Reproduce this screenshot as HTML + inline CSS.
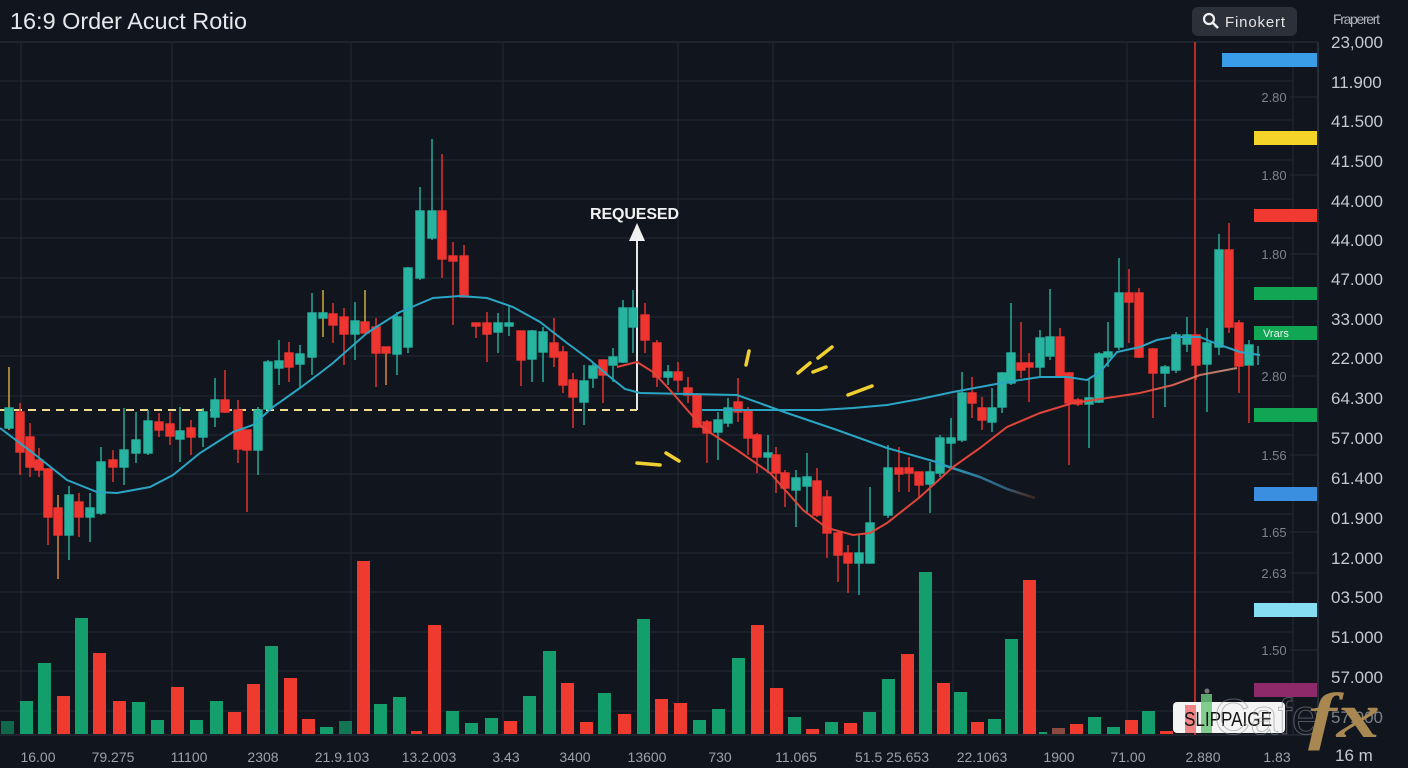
<!DOCTYPE html>
<html><head><meta charset="utf-8"><style>
html,body{margin:0;padding:0;background:#11151e;}
svg{display:block;font-family:"Liberation Sans",sans-serif;}
.t{fill:#27b4a1;stroke:#27b4a1;stroke-width:1.4}
.r{fill:#ee3530;stroke:#ee3530;stroke-width:1.4}
.vg{fill:#139e6b}.vr{fill:#ef3b2f}
.ax{fill:#c5c9d0;font-size:17px}
.il{fill:#7d828c;font-size:13px;text-anchor:middle}
.xl{fill:#9ca1aa;font-size:14px;text-anchor:middle}
.g{stroke:#242935;stroke-width:1}
</style></head><body>
<svg width="1408" height="768" viewBox="0 0 1408 768" xmlns="http://www.w3.org/2000/svg">
<rect width="1408" height="768" fill="#11151e"/>
<!-- grid -->
<g class="g">
<line x1="0" y1="42" x2="1318" y2="42" stroke="#2c313c"/>
<line x1="0" y1="81" x2="1293" y2="81"/><line x1="0" y1="120" x2="1293" y2="120"/>
<line x1="0" y1="160" x2="1293" y2="160"/><line x1="0" y1="199" x2="1293" y2="199"/>
<line x1="0" y1="238" x2="1293" y2="238"/><line x1="0" y1="278" x2="1293" y2="278"/>
<line x1="0" y1="317" x2="1293" y2="317"/><line x1="0" y1="356" x2="1293" y2="356"/>
<line x1="0" y1="396" x2="1293" y2="396"/><line x1="0" y1="435" x2="1293" y2="435"/>
<line x1="0" y1="474" x2="1293" y2="474"/><line x1="0" y1="514" x2="1293" y2="514"/>
<line x1="0" y1="553" x2="1293" y2="553"/><line x1="0" y1="592" x2="1293" y2="592"/>
<line x1="0" y1="632" x2="1293" y2="632"/><line x1="0" y1="671" x2="1293" y2="671"/>
<line x1="0" y1="711" x2="1293" y2="711"/>
<line x1="21" y1="42" x2="21" y2="735"/><line x1="172" y1="42" x2="172" y2="735"/>
<line x1="351" y1="42" x2="351" y2="735"/><line x1="503" y1="42" x2="503" y2="735"/>
<line x1="678" y1="42" x2="678" y2="735"/><line x1="773" y1="42" x2="773" y2="735"/>
<line x1="953" y1="42" x2="953" y2="735"/><line x1="1127" y1="42" x2="1127" y2="735"/>
<line x1="1293" y1="42" x2="1293" y2="735"/>
<line x1="1318" y1="42" x2="1318" y2="735" stroke="#2e3440" stroke-width="1.5"/>
<line x1="0" y1="735" x2="1318" y2="735" stroke="#2c313c"/>
<line x1="1290" y1="97" x2="1318" y2="97"/><line x1="1290" y1="175" x2="1318" y2="175"/>
<line x1="1290" y1="254" x2="1318" y2="254"/><line x1="1290" y1="376" x2="1318" y2="376"/>
<line x1="1290" y1="455" x2="1318" y2="455"/><line x1="1290" y1="532" x2="1318" y2="532"/>
<line x1="1290" y1="573" x2="1318" y2="573"/><line x1="1290" y1="650" x2="1318" y2="650"/>
</g>

<!-- header -->
<text x="10" y="29" fill="#e6e7ea" font-size="23" textLength="237" lengthAdjust="spacingAndGlyphs">16:9 Order Acuct Rotio</text>
<rect x="1192" y="7" width="105" height="29" rx="6" fill="#2c3038"/>
<circle cx="1209" cy="19" r="5" fill="none" stroke="#f0f0f0" stroke-width="2.2"/>
<line x1="1213" y1="23" x2="1218" y2="28" stroke="#f0f0f0" stroke-width="2.5"/>
<text x="1225" y="27" fill="#e4e4e6" font-size="15" textLength="60">Finokert</text>
<text x="1333" y="24" fill="#b0b4bb" font-size="14" textLength="47">Fraperert</text>

<!-- volume -->
<g>
<rect class="vg" x="1" y="721" width="13" height="13" opacity="0.6"/>
<rect class="vg" x="20" y="701" width="13" height="33"/>
<rect class="vg" x="38" y="663" width="13" height="71"/>
<rect class="vr" x="57" y="696" width="13" height="38"/>
<rect class="vg" x="75" y="618" width="13" height="116"/>
<rect class="vr" x="93" y="653" width="13" height="81"/>
<rect class="vr" x="113" y="701" width="13" height="33"/>
<rect class="vg" x="132" y="702" width="13" height="32"/>
<rect class="vg" x="151" y="720" width="13" height="14"/>
<rect class="vr" x="171" y="687" width="13" height="47"/>
<rect class="vg" x="190" y="720" width="13" height="14"/>
<rect class="vg" x="210" y="701" width="13" height="33"/>
<rect class="vr" x="228" y="712" width="13" height="22"/>
<rect class="vr" x="247" y="684" width="13" height="50"/>
<rect class="vg" x="265" y="646" width="13" height="88"/>
<rect class="vr" x="284" y="678" width="13" height="56"/>
<rect class="vr" x="302" y="719" width="13" height="15"/>
<rect class="vg" x="320" y="727" width="13" height="7"/>
<rect class="vg" x="339" y="721" width="13" height="13" opacity="0.7"/>
<rect class="vr" x="357" y="561" width="13" height="173"/>
<rect class="vg" x="374" y="704" width="13" height="30"/>
<rect class="vg" x="393" y="697" width="13" height="37"/>
<rect class="vr" x="411" y="731" width="11" height="3"/>
<rect class="vr" x="428" y="625" width="13" height="109"/>
<rect class="vg" x="446" y="711" width="13" height="23"/>
<rect class="vg" x="465" y="723" width="13" height="11"/>
<rect class="vg" x="485" y="718" width="13" height="16"/>
<rect class="vr" x="504" y="721" width="13" height="13"/>
<rect class="vg" x="523" y="696" width="13" height="38"/>
<rect class="vg" x="543" y="651" width="13" height="83"/>
<rect class="vr" x="561" y="683" width="13" height="51"/>
<rect class="vr" x="580" y="722" width="13" height="12"/>
<rect class="vg" x="598" y="693" width="13" height="41"/>
<rect class="vr" x="618" y="714" width="13" height="20"/>
<rect class="vg" x="637" y="619" width="13" height="115"/>
<rect class="vr" x="655" y="699" width="13" height="35"/>
<rect class="vr" x="674" y="703" width="13" height="31"/>
<rect class="vg" x="693" y="720" width="13" height="14"/>
<rect class="vg" x="712" y="709" width="13" height="25"/>
<rect class="vg" x="732" y="658" width="13" height="76"/>
<rect class="vr" x="751" y="625" width="13" height="109"/>
<rect class="vr" x="770" y="688" width="13" height="46"/>
<rect class="vg" x="788" y="717" width="13" height="17"/>
<rect class="vr" x="806" y="729" width="13" height="5"/>
<rect class="vg" x="825" y="722" width="13" height="12"/>
<rect class="vr" x="844" y="723" width="13" height="11"/>
<rect class="vg" x="863" y="712" width="13" height="22"/>
<rect class="vg" x="882" y="679" width="13" height="55"/>
<rect class="vr" x="901" y="654" width="13" height="80"/>
<rect class="vg" x="919" y="572" width="13" height="162"/>
<rect class="vr" x="937" y="683" width="13" height="51"/>
<rect class="vg" x="954" y="692" width="13" height="42"/>
<rect class="vr" x="971" y="722" width="13" height="12"/>
<rect class="vg" x="988" y="719" width="13" height="15"/>
<rect class="vg" x="1005" y="639" width="13" height="95"/>
<rect class="vr" x="1023" y="580" width="13" height="154"/>
<rect class="vg" x="1039" y="732" width="8" height="2"/>
<rect x="1052" y="728" width="13" height="6" fill="#8a4a40"/>
<rect class="vr" x="1070" y="724" width="13" height="10"/>
<rect class="vg" x="1088" y="717" width="13" height="17"/>
<rect class="vg" x="1107" y="727" width="13" height="7"/>
<rect class="vr" x="1125" y="720" width="13" height="14"/>
<rect class="vg" x="1142" y="711" width="13" height="23"/>
<rect class="vr" x="1160" y="731" width="13" height="3"/>
</g>

<!-- dashed line and arrow -->
<line x1="0" y1="410" x2="637" y2="410" stroke="#efdc90" stroke-width="2" stroke-dasharray="8 6"/>
<line x1="637" y1="410" x2="637" y2="238" stroke="#e6e6e6" stroke-width="2"/>
<polygon points="629,241 645,241 637,223" fill="#f0f0f0"/>
<text x="590" y="219" fill="#f2f2f2" font-size="16" font-weight="bold" textLength="89">REQUESED</text>

<!-- red vertical -->
<line x1="1195" y1="42" x2="1195" y2="735" stroke="#d9342b" stroke-width="1.6"/>

<!-- candles teal -->
<g class="t">
<line x1="9" y1="367" x2="9" y2="430" stroke="#e0b040"/><rect x="5" y="408" width="8" height="20"/>
<line x1="69" y1="486" x2="69" y2="560"/><rect x="65" y="495" width="8" height="40"/>
<line x1="90" y1="493" x2="90" y2="542"/><rect x="86" y="508" width="8" height="9"/>
<line x1="101" y1="447" x2="101" y2="515"/><rect x="97" y="462" width="8" height="51"/>
<line x1="124" y1="408" x2="124" y2="485"/><rect x="120" y="450" width="8" height="17"/>
<line x1="136" y1="412" x2="136" y2="463"/><rect x="132" y="440" width="8" height="13"/>
<line x1="148" y1="410" x2="148" y2="455"/><rect x="144" y="421" width="8" height="32"/>
<line x1="180" y1="407" x2="180" y2="462"/><rect x="176" y="431" width="8" height="8"/>
<line x1="203" y1="408" x2="203" y2="447"/><rect x="199" y="412" width="8" height="25"/>
<line x1="215" y1="378" x2="215" y2="427"/><rect x="211" y="400" width="8" height="17"/>
<line x1="258" y1="407" x2="258" y2="475"/><rect x="254" y="410" width="8" height="40"/>
<line x1="268" y1="360" x2="268" y2="410"/><rect x="264" y="362" width="8" height="47"/>
<line x1="279" y1="340" x2="279" y2="385"/><rect x="275" y="361" width="8" height="7"/>
<line x1="300" y1="345" x2="300" y2="387"/><rect x="296" y="354" width="8" height="10"/>
<line x1="312" y1="293" x2="312" y2="375"/><rect x="308" y="313" width="8" height="44"/>
<line x1="323" y1="290" x2="323" y2="337" stroke="#d8b840"/><rect x="319" y="313" width="8" height="5"/>
<line x1="355" y1="302" x2="355" y2="360"/><rect x="351" y="321" width="8" height="13"/>
<line x1="397" y1="312" x2="397" y2="375"/><rect x="393" y="317" width="8" height="37"/>
<line x1="408" y1="267" x2="408" y2="353"/><rect x="404" y="268" width="8" height="79"/>
<line x1="420" y1="187" x2="420" y2="280"/><rect x="416" y="211" width="8" height="67"/>
<line x1="432" y1="139" x2="432" y2="240"/><rect x="428" y="211" width="8" height="27"/>
<line x1="498" y1="313" x2="498" y2="353"/><rect x="494" y="323" width="8" height="9"/>
<line x1="509" y1="305" x2="509" y2="336"/><rect x="505" y="323" width="8" height="3"/>
<line x1="532" y1="330" x2="532" y2="382"/><rect x="528" y="331" width="8" height="28"/>
<line x1="543" y1="327" x2="543" y2="382"/><rect x="539" y="332" width="8" height="20"/>
<line x1="584" y1="365" x2="584" y2="425"/><rect x="580" y="381" width="8" height="21"/>
<line x1="593" y1="362" x2="593" y2="388"/><rect x="589" y="366" width="8" height="12"/>
<line x1="613" y1="348" x2="613" y2="382"/><rect x="609" y="357" width="8" height="8"/>
<line x1="623" y1="300" x2="623" y2="363"/><rect x="619" y="308" width="8" height="54"/>
<line x1="633" y1="290" x2="633" y2="353"/><rect x="629" y="308" width="8" height="19"/>
<line x1="668" y1="365" x2="668" y2="385"/><rect x="664" y="372" width="8" height="5"/>
<line x1="718" y1="412" x2="718" y2="460"/><rect x="714" y="420" width="8" height="12"/>
<line x1="728" y1="398" x2="728" y2="427"/><rect x="724" y="408" width="8" height="15"/>
<line x1="768" y1="435" x2="768" y2="473"/><rect x="764" y="453" width="8" height="4"/>
<line x1="796" y1="470" x2="796" y2="527"/><rect x="792" y="478" width="8" height="12"/>
<line x1="807" y1="453" x2="807" y2="513"/><rect x="803" y="477" width="8" height="9"/>
<line x1="859" y1="535" x2="859" y2="595"/><rect x="855" y="553" width="8" height="10"/>
<line x1="870" y1="487" x2="870" y2="563"/><rect x="866" y="523" width="8" height="40"/>
<line x1="888" y1="445" x2="888" y2="518"/><rect x="884" y="468" width="8" height="47"/>
<line x1="930" y1="462" x2="930" y2="513"/><rect x="926" y="472" width="8" height="12"/>
<line x1="940" y1="435" x2="940" y2="477"/><rect x="936" y="438" width="8" height="35"/>
<line x1="951" y1="418" x2="951" y2="467"/><rect x="947" y="438" width="8" height="5"/>
<line x1="962" y1="372" x2="962" y2="442"/><rect x="958" y="393" width="8" height="47"/>
<line x1="992" y1="388" x2="992" y2="432"/><rect x="988" y="408" width="8" height="14"/>
<line x1="1002" y1="372" x2="1002" y2="413"/><rect x="998" y="373" width="8" height="34"/>
<line x1="1011" y1="303" x2="1011" y2="385"/><rect x="1007" y="353" width="8" height="30"/>
<line x1="1040" y1="330" x2="1040" y2="378"/><rect x="1036" y="338" width="8" height="29"/>
<line x1="1050" y1="289" x2="1050" y2="360"/><rect x="1046" y="337" width="8" height="19"/>
<line x1="1089" y1="378" x2="1089" y2="448"/><rect x="1085" y="398" width="8" height="6"/>
<line x1="1099" y1="352" x2="1099" y2="403"/><rect x="1095" y="354" width="8" height="48"/>
<line x1="1108" y1="322" x2="1108" y2="367"/><rect x="1104" y="352" width="8" height="5"/>
<line x1="1119" y1="258" x2="1119" y2="350"/><rect x="1115" y="293" width="8" height="54"/>
<line x1="1165" y1="365" x2="1165" y2="407"/><rect x="1161" y="367" width="8" height="6"/>
<line x1="1176" y1="332" x2="1176" y2="373"/><rect x="1172" y="335" width="8" height="35"/>
<line x1="1187" y1="317" x2="1187" y2="352"/><rect x="1183" y="335" width="8" height="9"/>
<line x1="1207" y1="328" x2="1207" y2="412"/><rect x="1203" y="343" width="8" height="21"/>
<line x1="1219" y1="234" x2="1219" y2="355"/><rect x="1215" y="250" width="8" height="97"/>
<line x1="1249" y1="340" x2="1249" y2="365"/><rect x="1245" y="345" width="8" height="20"/>
<line x1="1258" y1="346" x2="1258" y2="365"/>
</g>
<!-- candles red -->
<g class="r">
<line x1="20" y1="403" x2="20" y2="475"/><rect x="16" y="412" width="8" height="40"/>
<line x1="30" y1="423" x2="30" y2="477"/><rect x="26" y="437" width="8" height="30"/>
<line x1="39" y1="448" x2="39" y2="477"/><rect x="35" y="460" width="8" height="10"/>
<line x1="48" y1="468" x2="48" y2="545"/><rect x="44" y="469" width="8" height="48"/>
<line x1="58" y1="495" x2="58" y2="579" stroke="#e8903a"/><rect x="54" y="508" width="8" height="27"/>
<line x1="79" y1="493" x2="79" y2="537"/><rect x="75" y="502" width="8" height="15"/>
<line x1="113" y1="450" x2="113" y2="482"/><rect x="109" y="460" width="8" height="7"/>
<line x1="159" y1="413" x2="159" y2="437"/><rect x="155" y="422" width="8" height="8"/>
<line x1="170" y1="412" x2="170" y2="445"/><rect x="166" y="424" width="8" height="12"/>
<line x1="191" y1="420" x2="191" y2="455"/><rect x="187" y="428" width="8" height="9"/>
<line x1="225" y1="370" x2="225" y2="413"/><rect x="221" y="400" width="8" height="12"/>
<line x1="238" y1="400" x2="238" y2="463"/><rect x="234" y="410" width="8" height="39"/>
<line x1="247" y1="430" x2="247" y2="512"/><rect x="243" y="430" width="8" height="20"/>
<line x1="289" y1="342" x2="289" y2="382"/><rect x="285" y="353" width="8" height="14"/>
<line x1="333" y1="303" x2="333" y2="343"/><rect x="329" y="314" width="8" height="11"/>
<line x1="344" y1="308" x2="344" y2="365"/><rect x="340" y="317" width="8" height="17"/>
<line x1="365" y1="290" x2="365" y2="332" stroke="#d8b840"/><rect x="361" y="322" width="8" height="11"/>
<line x1="376" y1="318" x2="376" y2="387"/><rect x="372" y="327" width="8" height="26"/>
<line x1="386" y1="347" x2="386" y2="385" stroke="#e8903a"/><rect x="382" y="347" width="8" height="6"/>
<line x1="442" y1="154" x2="442" y2="278"/><rect x="438" y="211" width="8" height="48"/>
<line x1="453" y1="242" x2="453" y2="325"/><rect x="449" y="256" width="8" height="5"/>
<line x1="464" y1="245" x2="464" y2="297"/><rect x="460" y="256" width="8" height="41"/>
<line x1="476" y1="323" x2="476" y2="338"/><rect x="472" y="323" width="8" height="3"/>
<line x1="487" y1="312" x2="487" y2="362"/><rect x="483" y="323" width="8" height="11"/>
<line x1="521" y1="331" x2="521" y2="386"/><rect x="517" y="331" width="8" height="29"/>
<line x1="554" y1="318" x2="554" y2="367"/><rect x="550" y="343" width="8" height="14"/>
<line x1="563" y1="346" x2="563" y2="393"/><rect x="559" y="352" width="8" height="33"/>
<line x1="573" y1="373" x2="573" y2="428"/><rect x="569" y="380" width="8" height="17"/>
<line x1="603" y1="360" x2="603" y2="403"/><rect x="599" y="360" width="8" height="15"/>
<line x1="645" y1="303" x2="645" y2="353"/><rect x="641" y="315" width="8" height="25"/>
<line x1="657" y1="340" x2="657" y2="387"/><rect x="653" y="343" width="8" height="34"/>
<line x1="678" y1="362" x2="678" y2="392"/><rect x="674" y="372" width="8" height="8"/>
<line x1="688" y1="377" x2="688" y2="403"/><rect x="684" y="388" width="8" height="7"/>
<line x1="697" y1="393" x2="697" y2="428"/><rect x="693" y="395" width="8" height="32"/>
<line x1="707" y1="420" x2="707" y2="463"/><rect x="703" y="422" width="8" height="11"/>
<line x1="738" y1="378" x2="738" y2="422"/><rect x="734" y="402" width="8" height="10"/>
<line x1="748" y1="407" x2="748" y2="455"/><rect x="744" y="410" width="8" height="28"/>
<line x1="757" y1="433" x2="757" y2="473"/><rect x="753" y="435" width="8" height="22"/>
<line x1="776" y1="447" x2="776" y2="493"/><rect x="772" y="455" width="8" height="18"/>
<line x1="785" y1="470" x2="785" y2="507"/><rect x="781" y="473" width="8" height="15"/>
<line x1="817" y1="468" x2="817" y2="517"/><rect x="813" y="481" width="8" height="34"/>
<line x1="827" y1="490" x2="827" y2="558"/><rect x="823" y="497" width="8" height="36"/>
<line x1="838" y1="532" x2="838" y2="582"/><rect x="834" y="533" width="8" height="22"/>
<line x1="848" y1="545" x2="848" y2="593"/><rect x="844" y="553" width="8" height="10"/>
<line x1="899" y1="447" x2="899" y2="492"/><rect x="895" y="468" width="8" height="6"/>
<line x1="909" y1="457" x2="909" y2="492"/><rect x="905" y="468" width="8" height="5"/>
<line x1="919" y1="472" x2="919" y2="497"/><rect x="915" y="472" width="8" height="13"/>
<line x1="972" y1="377" x2="972" y2="418"/><rect x="968" y="393" width="8" height="10"/>
<line x1="982" y1="397" x2="982" y2="430"/><rect x="978" y="408" width="8" height="12"/>
<line x1="1021" y1="322" x2="1021" y2="378"/><rect x="1017" y="363" width="8" height="7"/>
<line x1="1029" y1="353" x2="1029" y2="402"/><rect x="1025" y="363" width="8" height="4"/>
<line x1="1060" y1="328" x2="1060" y2="378"/><rect x="1056" y="337" width="8" height="40"/>
<line x1="1069" y1="372" x2="1069" y2="465"/><rect x="1065" y="373" width="8" height="30"/>
<line x1="1078" y1="398" x2="1078" y2="406"/><rect x="1074" y="400" width="8" height="4"/>
<line x1="1129" y1="269" x2="1129" y2="343"/><rect x="1125" y="293" width="8" height="9"/>
<line x1="1139" y1="288" x2="1139" y2="358"/><rect x="1135" y="293" width="8" height="64"/>
<line x1="1153" y1="348" x2="1153" y2="418"/><rect x="1149" y="349" width="8" height="24"/>
<line x1="1196" y1="335" x2="1196" y2="380"/><rect x="1192" y="335" width="8" height="30"/>
<line x1="1229" y1="223" x2="1229" y2="333"/><rect x="1225" y="250" width="8" height="77"/>
<line x1="1239" y1="320" x2="1239" y2="393"/><rect x="1235" y="323" width="8" height="43"/>
<line x1="1249" y1="365" x2="1249" y2="423"/>
</g>

<!-- moving averages -->
<defs>
<linearGradient id="fadeA" x1="940" y1="0" x2="1035" y2="0" gradientUnits="userSpaceOnUse">
<stop offset="0" stop-color="#2aa6c4"/><stop offset="0.7" stop-color="#3b7fa8" stop-opacity="0.7"/><stop offset="1" stop-color="#c8704a" stop-opacity="0.2"/></linearGradient>
<linearGradient id="fadeR" x1="1140" y1="0" x2="1240" y2="0" gradientUnits="userSpaceOnUse">
<stop offset="0" stop-color="#e0453a"/><stop offset="1" stop-color="#d8a488" stop-opacity="0.8"/></linearGradient>
</defs>
<polyline fill="none" stroke="#2aa6c4" stroke-width="2" points="0,428 33,453 67,480 97,492 117,493 150,487 173,475 200,453 233,432 253,425 273,407 300,388 320,373 333,363 367,333 400,312 433,298 460,296 487,298 513,307 540,322 567,343 590,360 610,377 625,389 640,393 737,395 787,413 837,430 887,448 940,463"/>
<polyline fill="none" stroke="url(#fadeA)" stroke-width="2.5" points="937,463 980,477 1007,489 1035,498"/>
<polyline fill="none" stroke="#2aa6c4" stroke-width="2" points="702,410 820,410 853,408 887,405 920,399 953,392 980,387 1007,382 1040,377 1067,377 1087,380 1100,372 1117,352 1140,347 1157,340 1173,337 1200,337 1217,344 1240,352 1260,355"/>
<polyline fill="none" stroke="#e0453a" stroke-width="2" points="617,367 637,362 653,372 670,390 703,428 737,450 770,473 803,510 827,528 853,535 870,533 887,523 920,497 953,467 980,448 1007,427 1040,413 1073,403 1107,398 1140,393"/>
<polyline fill="none" stroke="url(#fadeR)" stroke-width="2" points="1140,393 1173,385 1200,375 1237,368"/>

<!-- yellow ticks -->
<g stroke="#f0d030" stroke-width="3.5" stroke-linecap="round">
<line x1="749" y1="351" x2="746" y2="365"/>
<line x1="798" y1="373" x2="810" y2="363"/>
<line x1="818" y1="358" x2="832" y2="347"/>
<line x1="813" y1="372" x2="826" y2="367"/>
<line x1="848" y1="395" x2="872" y2="386"/>
<line x1="637" y1="463" x2="660" y2="465"/>
<line x1="666" y1="453" x2="679" y2="461"/>
</g>

<!-- right color bars -->
<rect x="1222" y="53" width="95" height="14" fill="#3a9be6"/>
<rect x="1254" y="131" width="63" height="14" fill="#f5d42a"/>
<rect x="1254" y="209" width="63" height="13" fill="#f03a30"/>
<rect x="1254" y="287" width="63" height="13" fill="#11a654"/>
<rect x="1254" y="326" width="63" height="14" fill="#11a654"/>
<text x="1263" y="337" fill="#e8f5ec" font-size="11">Vrars</text>
<rect x="1254" y="408" width="63" height="14" fill="#11a654"/>
<rect x="1254" y="487" width="63" height="14" fill="#3b8fe0"/>
<rect x="1254" y="603" width="63" height="14" fill="#86def2"/>
<rect x="1254" y="683" width="63" height="14" fill="#8e2a6a"/>

<!-- inner labels -->
<text class="il" x="1274" y="102">2.80</text>
<text class="il" x="1274" y="180">1.80</text>
<text class="il" x="1274" y="259">1.80</text>
<text class="il" x="1274" y="381">2.80</text>
<text class="il" x="1274" y="460">1.56</text>
<text class="il" x="1274" y="537">1.65</text>
<text class="il" x="1274" y="578">2.63</text>
<text class="il" x="1274" y="655">1.50</text>

<!-- right axis labels -->
<text class="ax" x="1331" y="48">23,000</text>
<text class="ax" x="1331" y="88">11.900</text>
<text class="ax" x="1331" y="127">41.500</text>
<text class="ax" x="1331" y="167">41.500</text>
<text class="ax" x="1331" y="207">44.000</text>
<text class="ax" x="1331" y="246">44.000</text>
<text class="ax" x="1331" y="285">47.000</text>
<text class="ax" x="1331" y="325">33.000</text>
<text class="ax" x="1331" y="364">22.000</text>
<text class="ax" x="1331" y="404">64.300</text>
<text class="ax" x="1331" y="444">57.000</text>
<text class="ax" x="1331" y="484">61.400</text>
<text class="ax" x="1331" y="524">01.900</text>
<text class="ax" x="1331" y="564">12.000</text>
<text class="ax" x="1331" y="603">03.500</text>
<text class="ax" x="1331" y="643">51.000</text>
<text class="ax" x="1331" y="683">57.000</text>
<text class="ax" x="1331" y="723" opacity="0.6">57.000</text>
<text class="ax" x="1335" y="761" fill="#e2e4e8">16 m</text>

<!-- x labels -->
<text class="xl" x="38" y="762">16.00</text>
<text class="xl" x="113" y="762">79.275</text>
<text class="xl" x="189" y="762">11100</text>
<text class="xl" x="263" y="762">2308</text>
<text class="xl" x="342" y="762">21.9.103</text>
<text class="xl" x="429" y="762">13.2.003</text>
<text class="xl" x="506" y="762">3.43</text>
<text class="xl" x="575" y="762">3400</text>
<text class="xl" x="647" y="762">13600</text>
<text class="xl" x="720" y="762">730</text>
<text class="xl" x="796" y="762">11.065</text>
<text class="xl" x="892" y="762">51.5 25.653</text>
<text class="xl" x="982" y="762">22.1063</text>
<text class="xl" x="1059" y="762">1900</text>
<text class="xl" x="1128" y="762">71.00</text>
<text class="xl" x="1203" y="762">2.880</text>
<text class="xl" x="1277" y="762" fill="#7a3a34">1.83</text>

<!-- slippage box -->
<rect x="1173" y="702" width="112" height="31" rx="4" fill="#f4f4f4"/>
<rect x="1185" y="705" width="11" height="28" fill="#f07070" opacity="0.85"/>
<rect x="1201" y="694" width="11" height="39" fill="#6cc47c" opacity="0.85"/>
<circle cx="1207" cy="691" r="2.5" fill="#777"/>
<text x="1184" y="726" fill="#151515" font-size="20" textLength="88" lengthAdjust="spacingAndGlyphs">SLIPPAIGE</text>

<!-- watermark -->
<text x="1214" y="734" font-size="50" fill="none" stroke="#8a8d93" stroke-width="1" opacity="0.55" font-family="Liberation Sans, sans-serif">Cafe</text>
<text x="1308" y="737" font-size="64" fill="#a88850" font-style="italic" font-weight="bold" font-family="Liberation Serif, serif" textLength="72" lengthAdjust="spacingAndGlyphs">fx</text>
</svg>
</body></html>
